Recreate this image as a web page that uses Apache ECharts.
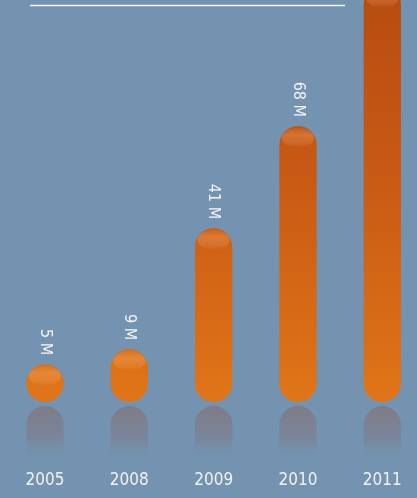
<!DOCTYPE html>
<html><head><meta charset="utf-8">
<script src="https://cdn.jsdelivr.net/npm/echarts@6/dist/echarts.min.js"></script>
<style>html,body{margin:0;padding:0;background:#7393b1;}#c{width:417px;height:498px;}</style>
</head><body><div id="c"></div>
<script>
const categories = ['2005', '2008', '2009', '2010', '2011'];
const values = [5, 9, 41, 68, 105];
const valueLabels = ['5 M', '9 M', '41 M', '68 M', '105 M'];

const chart = echarts.init(document.getElementById('c'), null, {renderer: 'canvas'});
const FONT = '"Liberation Sans Narrow", "DejaVu Sans Condensed", sans-serif';

function renderItem(params, api) {
  const idx = api.value(0);
  const v = api.value(1);
  const top = api.coord([idx, v]);
  const bottomY = params.coordSys.y + params.coordSys.height;
  const cx = top[0];
  const w = (api.coord([1, 0])[0] - api.coord([0, 0])[0]) * 0.443;
  const r = w / 2;
  let ty = top[1];
  if (bottomY - ty < w) ty = bottomY - w;
  const h = bottomY - ty;
  const children = [];
  children.push({
    type: 'rect', silent: true,
    shape: {x: cx - r, y: bottomY + 4, width: w, height: 58, r: [r, r, 8, 8]},
    style: {fill: {type: 'linear', x: 0, y: 0, x2: 0, y2: 1, colorStops: [
      {offset: 0, color: 'rgba(128,122,132,0.95)'},
      {offset: 0.55, color: 'rgba(124,128,144,0.7)'},
      {offset: 1, color: 'rgba(116,147,177,0)'}]}}
  });
  children.push({
    type: 'rect',
    shape: {x: cx - r, y: ty, width: w, height: h, r: r},
    style: {fill: {type: 'linear', x: 0, y: 0, x2: 0, y2: 402, global: true, colorStops: [
      {offset: 0, color: '#b84d12'},
      {offset: 0.45, color: '#c95a15'},
      {offset: 1, color: '#e07518'}]}}
  });
  children.push({
    type: 'ellipse', silent: true,
    shape: {cx: cx, cy: ty + 12, rx: r * 0.86, ry: 10},
    style: {fill: {type: 'linear', x: 0, y: 0, x2: 0, y2: 1, colorStops: [
      {offset: 0, color: 'rgba(255,205,160,0.05)'},
      {offset: 0.35, color: 'rgba(255,205,160,0.24)'},
      {offset: 0.75, color: 'rgba(255,205,160,0.14)'},
      {offset: 1, color: 'rgba(255,205,160,0)'}]}}
  });
  children.push({
    type: 'text', silent: true,
    x: cx, y: ty - 9, rotation: -Math.PI / 2,
    style: {text: valueLabels[params.dataIndex], align: 'right', verticalAlign: 'middle',
      fill: '#f4f4f4', font: '16px ' + FONT}
  });
  return {type: 'group', children: children};
}

chart.setOption({
  backgroundColor: '#7393b1',
  animation: false,
  grid: {left: 45, top: 5, right: 34.7, bottom: 96, containLabel: false},
  xAxis: {
    type: 'category', data: categories, boundaryGap: false,
    axisLine: {show: false}, axisTick: {show: false},
    axisLabel: {color: '#f2f2f2', fontSize: 17, fontFamily: FONT, margin: 70}
  },
  yAxis: {type: 'value', min: -5, max: 100, show: false, splitLine: {show: false}},
  graphic: [{
    type: 'line', silent: true,
    shape: {x1: 30, y1: 5.5, x2: 345, y2: 5.5},
    style: {stroke: '#f4f6f8', lineWidth: 1.5}
  }],
  series: [{
    type: 'custom', clip: false,
    data: values.map((v, i) => [i, v]),
    encode: {x: 0, y: 1},
    renderItem: renderItem
  }]
});
</script></body></html>
